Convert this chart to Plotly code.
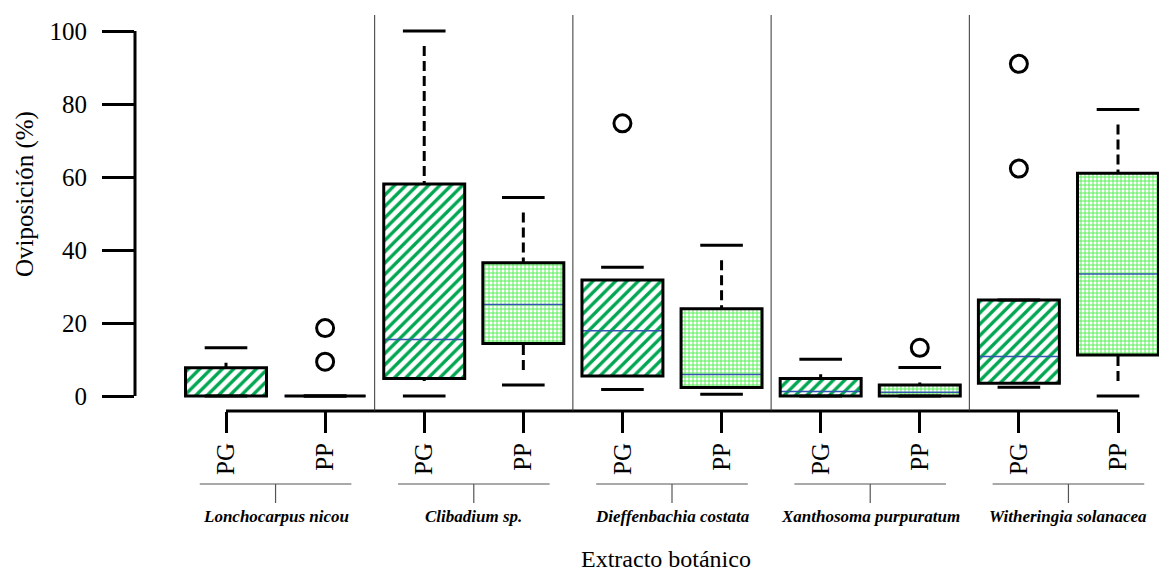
import plotly.graph_objects as go

# ---------------- data ----------------
groups = ["Lonchocarpus nicou", "Clibadium sp.", "Dieffenbachia costata",
          "Xanthosoma purpuratum", "Witheringia solanacea"]
treatments = ["PG", "PP"]
lower = [0, 0, 0, 3.0, 1.8, 0.5, 0, 0, 2.4, 0]
q1 = [0, 0, 4.8, 14.4, 5.5, 2.3, 0, 0, 3.5, 11.2]
median = [0, 0, 15.5, 25.1, 17.9, 5.9, 1.2, 1.0, 10.8, 33.4]
q3 = [7.75, 0, 58.1, 36.5, 31.8, 23.9, 4.8, 3.0, 26.3, 61.0]
upper = [13.2, 0, 100, 54.4, 35.3, 41.3, 10.1, 7.8, 26.3, 78.5]
outliers = [[], [9.4, 18.6], [], [], [74.7], [], [], [13.2], [62.3, 91.0], []]
y_ticks = [0, 20, 40, 60, 80, 100]

# ---------------- geometry / style ----------------
W, H = 1159, 573
ML, MR, MT, MB = 135, 0, 15, 162
plot_w = W - ML - MR
plot_h = H - MT - MB
BOX_W = 0.817
CAP_W = 0.43
FONT = "Liberation Serif, Times New Roman, serif"
PG_COL = "#00a651"
PP_COL = "#4fee4f"
MED_COL = "#3556b0"

n = len(groups) * len(treatments)
pos = [i + 1 for i in range(n)]
labels = [treatments[i % 2] for i in range(n)]

# x range so that first box centre sits at px 226 and last at px 1118
unit = (1118 - 226) / (pos[-1] - pos[0])
x0 = pos[0] - (226 - ML) / unit
x1 = x0 + plot_w / unit
# y range: 0 at px 396, 100 at px 31
yunit = (396 - 31) / (y_ticks[-1] - y_ticks[0])
y0 = -((MT + plot_h) - 396) / yunit
y1 = y0 + plot_h / yunit


def py(px):  # pixel row -> paper y
    return (MT + plot_h - px) / plot_h


def pxx(px):  # pixel column -> paper x
    return (px - ML) / plot_w


fig = go.Figure()

# patterned box fills
for t, (shape, col, size, sol) in enumerate([("/", PG_COL, 8, 0.42), ("+", PP_COL, 4, 0.42)]):
    idx = [i for i in range(n) if i % 2 == t]
    fig.add_trace(go.Bar(
        x=[pos[i] for i in idx],
        base=[q1[i] for i in idx],
        y=[q3[i] - q1[i] for i in idx],
        width=BOX_W,
        marker=dict(color="white", line=dict(width=0),
                    pattern=dict(shape=shape, fgcolor=col, bgcolor="white",
                                 size=size, solidity=sol, fillmode="replace")),
        hoverinfo="skip",
    ))

# medians
mx, my = [], []
for i in range(n):
    mx += [pos[i] - BOX_W / 2, pos[i] + BOX_W / 2, None]
    my += [median[i], median[i], None]
fig.add_trace(go.Scatter(x=mx, y=my, mode="lines",
                         line=dict(color=MED_COL, width=1.5), hoverinfo="skip"))

# whiskers (dashed), drawn from the cap towards the box with a leading gap
dash = ",".join(["0px", "15px"] + ["10px", "5px"] * 40)
wx, wy = [], []
for i in range(n):
    if upper[i] > q3[i]:
        wx += [pos[i], pos[i], None]
        wy += [upper[i], q3[i], None]
    if lower[i] < q1[i]:
        wx += [pos[i], pos[i], None]
        wy += [lower[i], q1[i], None]
fig.add_trace(go.Scatter(x=wx, y=wy, mode="lines",
                         line=dict(color="black", width=3, dash=dash),
                         hoverinfo="skip"))

# caps
cx, cy = [], []
for i in range(n):
    for v in (upper[i], lower[i]):
        cx += [pos[i] - CAP_W / 2, pos[i] + CAP_W / 2, None]
        cy += [v, v, None]
fig.add_trace(go.Scatter(x=cx, y=cy, mode="lines",
                         line=dict(color="black", width=3), hoverinfo="skip"))

# box outlines
bx, by = [], []
for i in range(n):
    l, r = pos[i] - BOX_W / 2, pos[i] + BOX_W / 2
    bx += [l, r, r, l, l, r, None]
    by += [q1[i], q1[i], q3[i], q3[i], q1[i], q1[i], None]
fig.add_trace(go.Scatter(x=bx, y=by, mode="lines",
                         line=dict(color="black", width=3), hoverinfo="skip"))

# outliers
ox, oy = [], []
for i in range(n):
    for v in outliers[i]:
        ox.append(pos[i])
        oy.append(v)
fig.add_trace(go.Scatter(x=ox, y=oy, mode="markers",
                         marker=dict(symbol="circle-open", size=17,
                                     line=dict(color="black", width=3), color="black"),
                         hoverinfo="skip"))

shapes = []
# y axis line (only over tick span)
shapes.append(dict(type="line", xref="paper", yref="y", x0=0, x1=0,
                   y0=y_ticks[0], y1=y_ticks[-1], line=dict(color="black", width=3)))
# x axis line (first to last box)
shapes.append(dict(type="line", xref="x", yref="paper", x0=pos[0], x1=pos[-1],
                   y0=0, y1=0, line=dict(color="black", width=3)))
annotations = []
for g in range(len(groups)):
    a, b = pos[2 * g], pos[2 * g + 1]
    c = (a + b) / 2
    if g > 0:
        sx = (pos[2 * g - 1] + a) / 2
        shapes.append(dict(type="line", xref="x", yref="paper", x0=sx, x1=sx,
                           y0=0, y1=1, line=dict(color="#333333", width=1)))
    shapes.append(dict(type="line", xref="x", yref="paper", x0=c - 0.765, x1=c + 0.765,
                       y0=py(484), y1=py(484), line=dict(color="#555555", width=1.2)))
    shapes.append(dict(type="line", xref="x", yref="paper", x0=c, x1=c,
                       y0=py(484), y1=py(503), line=dict(color="#555555", width=1.2)))
    annotations.append(dict(x=c, y=py(516), xref="x", yref="paper",
                            text="<b><i>" + groups[g] + "</i></b>", showarrow=False,
                            xanchor="center", yanchor="middle",
                            font=dict(family=FONT, size=17, color="black")))

annotations.append(dict(x=pxx(666), y=py(559), xref="paper", yref="paper",
                        text="Extracto botánico", showarrow=False,
                        xanchor="center", yanchor="middle",
                        font=dict(family=FONT, size=24, color="black")))
annotations.append(dict(x=pxx(25), y=py(194), xref="paper", yref="paper",
                        text="Oviposición (%)", showarrow=False, textangle=-90,
                        xanchor="center", yanchor="middle",
                        font=dict(family=FONT, size=25, color="black")))

fig.update_layout(
    width=W, height=H,
    margin=dict(l=ML, r=MR, t=MT, b=MB, pad=0),
    paper_bgcolor="white", plot_bgcolor="white",
    showlegend=False, barmode="overlay",
    font=dict(family=FONT),
    shapes=shapes, annotations=annotations,
    xaxis=dict(range=[x0, x1], tickvals=pos, ticktext=labels, tickangle=-90,
               ticks="outside", ticklen=21, tickwidth=3, tickcolor="black",
               showgrid=False, zeroline=False, showline=False,
               tickfont=dict(family=FONT, size=25, color="black")),
    yaxis=dict(range=[y0, y1], tickvals=y_ticks, ticks="outside", ticklen=32,
               tickwidth=3, tickcolor="black", showgrid=False, zeroline=False,
               showline=False, ticklabelstandoff=10,
               tickfont=dict(family=FONT, size=25, color="black")),
)

fig.write_html("out.html")
